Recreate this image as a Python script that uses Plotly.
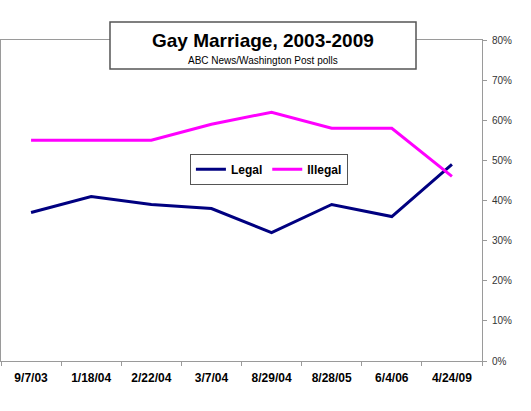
import plotly.graph_objects as go

dates = ["9/7/03", "1/18/04", "2/22/04", "3/7/04", "8/29/04", "8/28/05", "6/4/06", "4/24/09"]
legal = [37, 41, 39, 38, 32, 39, 36, 49]
illegal = [55, 55, 55, 59, 62, 58, 58, 46]
y_ticks = [0, 10, 20, 30, 40, 50, 60, 70, 80]
y_labels = [f"{v}%" for v in y_ticks]

FONT = "Arial, Liberation Sans, sans-serif"
AXIS = "#9a9a9a"

fig = go.Figure()
fig.add_trace(go.Scatter(x=dates, y=legal, mode="lines", name="<b>Legal</b>",
                         line=dict(color="#000080", width=3)))
fig.add_trace(go.Scatter(x=dates, y=illegal, mode="lines", name="<b>Illegal</b>",
                         line=dict(color="#FF00FF", width=3)))

fig.update_layout(
    width=531, height=411,
    margin=dict(l=1, r=49, t=40, b=50),
    paper_bgcolor="white", plot_bgcolor="white",
    font=dict(family=FONT, color="black"),
    showlegend=True,
    legend=dict(orientation="h", x=0.557, y=0.597, xanchor="center", yanchor="middle",
                bordercolor="#555555", borderwidth=1, bgcolor="white",
                font=dict(family=FONT, size=12, color="black"),
                itemwidth=30),
    xaxis=dict(type="category", range=[-0.5, 7.5], showgrid=False,
               showline=True, linecolor=AXIS, linewidth=1, mirror=True,
               ticks="outside", ticklen=4, tickcolor=AXIS, tickson="boundaries",
               tickfont=dict(family=FONT, size=12, color="black", weight="bold"),
               fixedrange=True),
    yaxis=dict(side="right", range=[0, 80], tickvals=y_ticks, ticktext=y_labels,
               showgrid=False, zeroline=False,
               showline=True, linecolor=AXIS, linewidth=1, mirror=True,
               ticks="outside", ticklen=4, tickcolor=AXIS,
               tickfont=dict(family=FONT, size=10, color="#333333"),
               fixedrange=True),
)

fig.update_xaxes(ticklabelstandoff=6)
fig.update_yaxes(ticklabelstandoff=3)

# Title box
fig.add_shape(type="rect", xref="paper", yref="paper",
              x0=0.2266, x1=0.8628, y0=0.9097, y1=1.056,
              line=dict(color="#555555", width=1.5), fillcolor="white", layer="above")
fig.add_annotation(xref="paper", yref="paper", x=0.545, y=0.998,
                   text="<b>Gay Marriage, 2003-2009</b>", showarrow=False,
                   font=dict(family=FONT, size=19, color="black"),
                   xanchor="center", yanchor="middle")
fig.add_annotation(xref="paper", yref="paper", x=0.545, y=0.936,
                   text="ABC News/Washington Post polls", showarrow=False,
                   font=dict(family=FONT, size=10, color="black"),
                   xanchor="center", yanchor="middle")

fig.write_html("out.html")
